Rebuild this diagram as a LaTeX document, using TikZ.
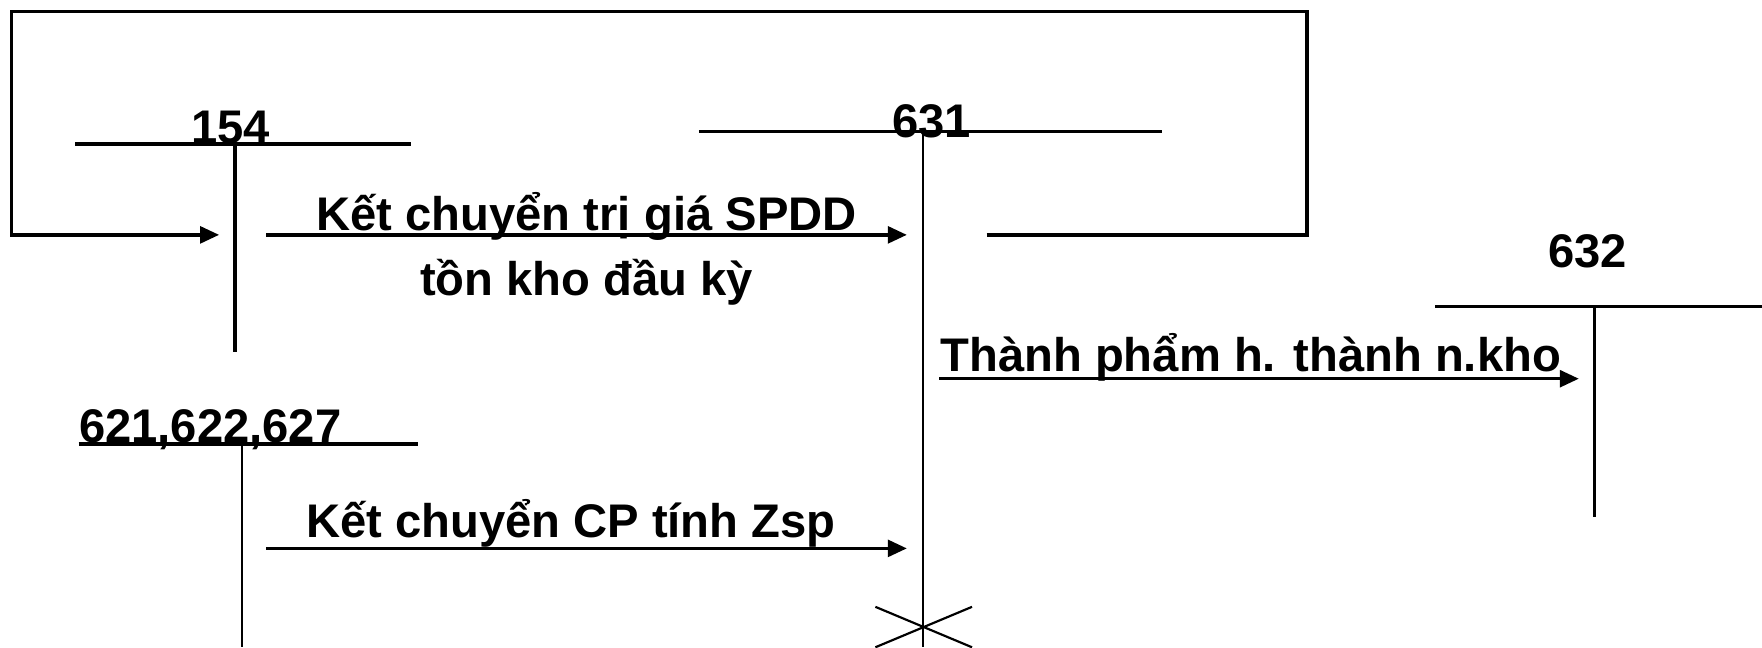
\documentclass[tikz,border=0pt]{standalone}
\usepackage{fontspec}
\setmainfont{Liberation Sans}
\usetikzlibrary{arrows.meta}
\tikzset{
  acline/.style={line width=1.7pt,draw=black},
  acthin/.style={line width=1.1pt,draw=black},
  flow/.style={line width=1.7pt,draw=black,-{Triangle[length=0.34cm,width=0.3cm]}},
  acname/.style={font=\fontsize{23.9}{28}\selectfont\bfseries,inner sep=0pt,anchor=base},
  flowtext/.style={font=\fontsize{23.9}{28}\selectfont\bfseries,inner sep=0pt,anchor=base},
}
\begin{document}
\begin{tikzpicture}[x=0.02cm,y=-0.02cm]
  \useasboundingbox (0,0) rectangle (1568,576);
  \node[acname] (n154) at (205,128) {154};
  \node[acname] (n631) at (829,122) {631};
  \node[acname] (n632) at (1413,238) {632};
  \node[acname,anchor=base west] (n621) at (70,394) {621,622,627};
  \draw[acline] (67,128) -- (366,128);
  \draw[acline] (209,128) -- (209,313);
  \draw[acline] (622,117) -- (1034,117);
  \draw[acthin] (821,117) -- (821,576);
  \draw[acline] (1277,273) -- (1568,273);
  \draw[acline] (1419,273) -- (1419,460);
  \draw[acline] (70,395) -- (372,395);
  \draw[acthin] (215,395) -- (215,576);
  \draw[acthin] (779,540) -- (865,576);
  \draw[acthin] (865,540) -- (779,576);
  \coordinate (back631) at (878,209);
  \coordinate (in154) at (195,209);
  \coordinate (out154) at (237,209);
  \coordinate (in631a) at (807,209);
  \coordinate (out621) at (237,488);
  \coordinate (in631b) at (807,488);
  \coordinate (out631) at (836,337);
  \coordinate (in632) at (1405,337);
  \draw[flow] (back631) -- (1163,209) -- (1163,10) -- (10,10) -- (10,209) -- (in154);
  \draw[flow] (out154) -- (in631a);
  \draw[flow] (out621) -- (in631b);
  \draw[flow] (out631) -- (in632);
  \node[flowtext] (spdd) at (522,205) {Kết chuyển trị giá SPDD};
  \node[flowtext] (tonkho) at (522,263) {tồn kho đầu kỳ};
  \node[flowtext] (zsp) at (508,478) {Kết chuyển CP tính Zsp};
  \node[flowtext] (nhapkho) at (1113,331) {Thành phẩm h. thành n.kho};
\end{tikzpicture}
\end{document}
